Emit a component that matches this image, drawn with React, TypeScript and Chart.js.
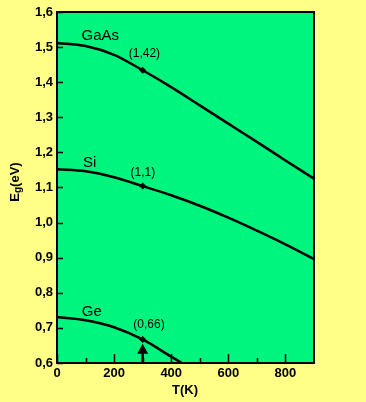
import React, { useEffect, useRef } from "react";
import { Chart, registerables } from "chart.js";

Chart.register(...registerables);

// ---- data ----
const temps = [0, 100, 200, 300, 400, 500, 600, 700, 800, 900];
const gaasEg = [1.512, 1.503, 1.478, 1.434, 1.386, 1.334, 1.282, 1.23, 1.177, 1.125];
const siEg = [1.152, 1.146, 1.129, 1.104, 1.078, 1.048, 1.014, 0.977, 0.938, 0.896];
const geTemps = [0, 100, 200, 300, 400, 437];
const geEg = [0.731, 0.722, 0.702, 0.667, 0.618, 0.6];
const seriesNames = ["GaAs", "Si", "Ge"];
const roomTempLabels = ["(1,42)", "(1,1)", "(0,66)"];
const markerT = 300;
const xTicks = [0, 200, 400, 600, 800];
const xMinorTicks = [100, 300, 500, 700];
const yTicks = [0.6, 0.7, 0.8, 0.9, 1.0, 1.1, 1.2, 1.3, 1.4, 1.5, 1.6];
const arrowFrom = 0.6;
const arrowTo = 0.655;

const YELLOW = "#FFFF88";
const GREEN = "#00F57F";
const FONT = 'Arial, "Liberation Sans", Helvetica, sans-serif';

// label anchors in data units (T, Eg)
const nameAnchors = [
  { t: 86, e: 1.531 },
  { t: 91, e: 1.169 },
  { t: 87, e: 0.747 },
];
const valueAnchors = [
  { t: 306, e: 1.482 },
  { t: 301, e: 1.141 },
  { t: 322, e: 0.708 },
];

const toXY = (xs: number[], ys: number[]) => xs.map((x, i) => ({ x, y: ys[i] }));

const decoPlugin = {
  id: "deco",
  beforeDraw(chart: any) {
    const { ctx, chartArea: a, width, height } = chart;
    ctx.save();
    ctx.fillStyle = YELLOW;
    ctx.fillRect(0, 0, width, height);
    ctx.fillStyle = GREEN;
    ctx.fillRect(a.left, a.top, a.right - a.left, a.bottom - a.top);
    ctx.restore();
  },
  afterDraw(chart: any) {
    const { ctx, chartArea: a } = chart;
    const xs = chart.scales.x;
    const ys = chart.scales.y;
    ctx.save();
    ctx.strokeStyle = "#000";
    ctx.fillStyle = "#000";
    // frame
    ctx.lineWidth = 2;
    ctx.strokeRect(a.left, a.top, a.right - a.left, a.bottom - a.top);
    // ticks (inside)
    ctx.lineWidth = 1.5;
    ctx.beginPath();
    xTicks.forEach((v) => {
      const px = Math.round(xs.getPixelForValue(v)) + 0.5;
      ctx.moveTo(px, a.bottom);
      ctx.lineTo(px, a.bottom - 9);
    });
    xMinorTicks.forEach((v) => {
      const px = Math.round(xs.getPixelForValue(v)) + 0.5;
      ctx.moveTo(px, a.bottom);
      ctx.lineTo(px, a.bottom - 5);
    });
    yTicks.forEach((v) => {
      const py = Math.round(ys.getPixelForValue(v)) + 0.5;
      ctx.moveTo(a.left, py);
      ctx.lineTo(a.left + 6, py);
    });
    ctx.stroke();

    // arrow
    const ax = xs.getPixelForValue(markerT);
    const tipY = ys.getPixelForValue(arrowTo);
    const baseY = tipY + 10;
    const botY = ys.getPixelForValue(arrowFrom);
    ctx.beginPath();
    ctx.moveTo(ax, tipY);
    ctx.lineTo(ax + 5.5, baseY);
    ctx.lineTo(ax - 5.5, baseY);
    ctx.closePath();
    ctx.fill();
    ctx.fillRect(ax - 1.25, baseY - 1, 2.5, botY - baseY + 1);

    // curve names
    ctx.textBaseline = "middle";
    ctx.textAlign = "left";
    ctx.font = `15px ${FONT}`;
    seriesNames.forEach((n, i) => {
      const p = nameAnchors[i];
      ctx.fillText(n, xs.getPixelForValue(p.t), ys.getPixelForValue(p.e));
    });
    ctx.textAlign = "center";
    ctx.font = `12px ${FONT}`;
    roomTempLabels.forEach((n, i) => {
      const p = valueAnchors[i];
      ctx.fillText(n, xs.getPixelForValue(p.t), ys.getPixelForValue(p.e));
    });

    // x title
    ctx.font = `bold 13px ${FONT}`;
    ctx.textAlign = "center";
    ctx.fillText("T(K)", 185, 390);

    // y title with subscript
    ctx.translate(15, 182);
    ctx.rotate(-Math.PI / 2);
    ctx.textAlign = "left";
    const big = `bold 13px ${FONT}`;
    const small = `bold 10px ${FONT}`;
    ctx.font = big;
    const wE = ctx.measureText("E").width;
    const wR = ctx.measureText("(eV)").width;
    ctx.font = small;
    const wg = ctx.measureText("g").width;
    let x0 = -(wE + wg + wR) / 2;
    ctx.font = big;
    ctx.fillText("E", x0, 0);
    ctx.font = small;
    ctx.fillText("g", x0 + wE, 3);
    ctx.font = big;
    ctx.fillText("(eV)", x0 + wE + wg, 0);
    ctx.restore();
  },
};

export default function App() {
  const ref = useRef<HTMLCanvasElement | null>(null);
  useEffect(() => {
    document.body.style.margin = "0";
    document.body.style.background = YELLOW;
    const canvas = ref.current;
    if (!canvas) return;
    const lineDs = (label: string, xs: number[], ys: number[]) => ({
      label,
      data: toXY(xs, ys),
      borderColor: "#000",
      borderWidth: 2.5,
      backgroundColor: "#000",
      fill: false,
      cubicInterpolationMode: "monotone" as const,
      pointStyle: "rectRot" as const,
      pointRadius: (c: any) => (c.raw && c.raw.x === markerT ? 3.5 : 0),
      pointBackgroundColor: "#000",
      pointBorderColor: "#000",
      pointBorderWidth: 0,
    });
    const chart = new Chart(canvas, {
      type: "line",
      data: {
        datasets: [
          lineDs(seriesNames[0], temps, gaasEg),
          lineDs(seriesNames[1], temps, siEg),
          lineDs(seriesNames[2], geTemps, geEg),
        ],
      },
      options: {
        responsive: false,
        animation: false,
        events: [],
        layout: { padding: { left: 0, top: 12, right: 52, bottom: 0 } },
        plugins: { legend: { display: false }, tooltip: { enabled: false } },
        scales: {
          x: {
            type: "linear",
            min: 0,
            max: 900,
            grid: { display: false, drawTicks: false },
            border: { display: false },
            afterBuildTicks: (s: any) => {
              s.ticks = xTicks.map((v) => ({ value: v }));
            },
            afterFit: (s: any) => {
              s.height = 39;
            },
            ticks: {
              padding: 3,
              maxRotation: 0,
              autoSkip: false,
              color: "#000",
              font: { family: FONT, size: 13, weight: "bold" },
              callback: (v: any) => String(v),
            },
          },
          y: {
            type: "linear",
            min: 0.6,
            max: 1.6,
            grid: { display: false, drawTicks: false },
            border: { display: false },
            afterBuildTicks: (s: any) => {
              s.ticks = yTicks.map((v) => ({ value: v }));
            },
            afterFit: (s: any) => {
              s.width = 57;
            },
            ticks: {
              padding: 4,
              autoSkip: false,
              color: "#000",
              font: { family: FONT, size: 13, weight: "bold" },
              callback: (v: any) => Number(v).toFixed(1).replace(".", ","),
            },
          },
        },
      },
      plugins: [decoPlugin],
    });
    return () => chart.destroy();
  }, []);
  return <canvas ref={ref} width={366} height={402} style={{ display: "block" }} />;
}
